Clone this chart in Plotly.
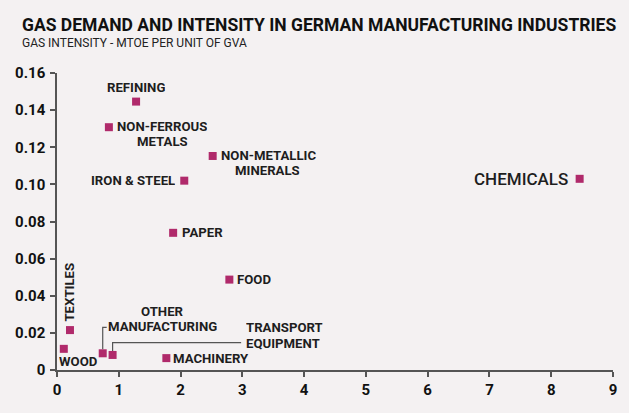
import plotly.graph_objects as go

# ---- data ----
sectors = ["REFINING", "NON-FERROUS<br>METALS", "NON-METALLIC<br>MINERALS", "IRON & STEEL",
           "PAPER", "FOOD", "TEXTILES", "WOOD", "OTHER<br>MANUFACTURING",
           "TRANSPORT<br>EQUIPMENT", "MACHINERY", "CHEMICALS"]
gas_demand = [1.28, 0.84, 2.52, 2.06, 1.88, 2.79, 0.21, 0.11, 0.74, 0.90, 1.77, 8.46]
gas_intensity = [0.1446, 0.1308, 0.1153, 0.1020, 0.0739, 0.0487, 0.0215, 0.0114, 0.0090, 0.0081, 0.0064, 0.1030]
x_ticks = [0, 1, 2, 3, 4, 5, 6, 7, 8, 9]
y_ticks = [0, 0.02, 0.04, 0.06, 0.08, 0.10, 0.12, 0.14, 0.16]
y_tick_labels = ["0", "0.02", "0.04", "0.06", "0.08", "0.10", "0.12", "0.14", "0.16"]

BG = "#f4f1f2"
MAG = "#b02a6b"
TXT = "#1e1e1e"
FONT = "Roboto"

W, H = 629, 413
ML, MR, MT, MB = 57, 14, 73, 43
PW, PH = W - ML - MR, H - MT - MB
XMAX, YMAX = 9, 0.16

fig = go.Figure()
fig.add_trace(go.Scatter(
    x=gas_demand, y=gas_intensity, mode="markers",
    marker=dict(symbol="square", size=8, color=MAG, line=dict(width=0)),
    hoverinfo="skip", showlegend=False, cliponaxis=False))

LS = 13.2  # label font size
# per-line label placement in pixels relative to the marker: (xshift, yshift, xanchor)
place = {
    "REFINING": [(0, 14, "center")],
    "NON-FERROUS<br>METALS": [(7, 0.75, "left"), (54, -14.75, "center")],
    "NON-METALLIC<br>MINERALS": [(7, 0.75, "left"), (55, -14.75, "center")],
    "IRON & STEEL": [(-8, 0, "right")],
    "PAPER": [(8, 0, "left")],
    "FOOD": [(7, 0, "left")],
    "MACHINERY": [(6, 0, "left")],
    "WOOD": [(14.5, -12.5, "center")],
    "OTHER<br>MANUFACTURING": [(60, 42, "center"), (4.5, 26.5, "left")],
    "TRANSPORT<br>EQUIPMENT": [(132, 27, "left"), (132, 11.5, "left")],
}
# leader lines: (rise, run) in pixels from marker
leaders = {
    "OTHER<br>MANUFACTURING": (26, 4),
    "TRANSPORT<br>EQUIPMENT": (12.3, 129),
}
px_x = XMAX / PW
px_y = YMAX / PH

for name, xv, yv in zip(sectors, gas_demand, gas_intensity):
    if name in place:
        for line, (xs, ys, xa) in zip(name.split("<br>"), place[name]):
            fig.add_annotation(x=xv, y=yv, text=line, showarrow=False,
                               xshift=xs, yshift=ys, xanchor=xa, yanchor="middle",
                               height=13, borderpad=0, valign="middle",
                               font=dict(family=FONT, size=LS, weight=700, color=TXT))
    if name == "TEXTILES":
        fig.add_annotation(x=xv, y=yv, text=name, showarrow=False, textangle=-90,
                           xshift=0, yshift=7, xanchor="center", yanchor="bottom",
                           font=dict(family=FONT, size=LS, weight=700, color=TXT))
    if name == "CHEMICALS":
        fig.add_annotation(x=xv, y=yv, text=name, showarrow=False,
                           xshift=-10, yshift=0, xanchor="right", yanchor="middle",
                           font=dict(family=FONT, size=17, weight=500, color=TXT))
    if name in leaders:
        rise, run = leaders[name]
        y0 = yv + 4 * px_y
        y1 = yv + rise * px_y
        x1 = xv + run * px_x
        fig.add_shape(type="path", path=f"M {xv} {y0} L {xv} {y1} L {x1} {y1}",
                      line=dict(color="#555555", width=1.2), layer="above")

# title and subtitle
fig.add_annotation(xref="paper", yref="paper", x=(20 - ML) / PW, y=1 + (MT - 25) / PH,
                   text="GAS DEMAND AND INTENSITY IN GERMAN MANUFACTURING INDUSTRIES",
                   showarrow=False, xanchor="left", yanchor="middle",
                   font=dict(family=FONT, size=17.5, weight=700, color="#111111"))
fig.add_annotation(xref="paper", yref="paper", x=(20 - ML) / PW, y=1 + (MT - 43) / PH,
                   text="GAS INTENSITY - MTOE PER UNIT OF GVA",
                   showarrow=False, xanchor="left", yanchor="middle",
                   font=dict(family=FONT, size=12, weight=400, color="#222222"))

axis_common = dict(showgrid=False, zeroline=False, showline=True, linecolor="#555555",
                   linewidth=1.5, ticks="outside", ticklen=5, tickcolor="#555555",
                   tickwidth=1.5,
                   tickfont=dict(family=FONT, size=15, weight=700, color="#111111"))
fig.update_xaxes(range=[0, XMAX], tickvals=x_ticks, ticktext=[str(v) for v in x_ticks],
                 **axis_common)
fig.update_yaxes(range=[0, YMAX], tickvals=y_ticks, ticktext=y_tick_labels,
                 ticklabelstandoff=2, **axis_common)

fig.update_layout(width=W, height=H, margin=dict(l=ML, r=MR, t=MT, b=MB, pad=0),
                  paper_bgcolor=BG, plot_bgcolor=BG, showlegend=False,
                  font=dict(family=FONT))
fig.write_html("out.html", config={"displayModeBar": False},
               post_script="document.body.style.margin='0';document.body.style.background='%s';" % BG)
